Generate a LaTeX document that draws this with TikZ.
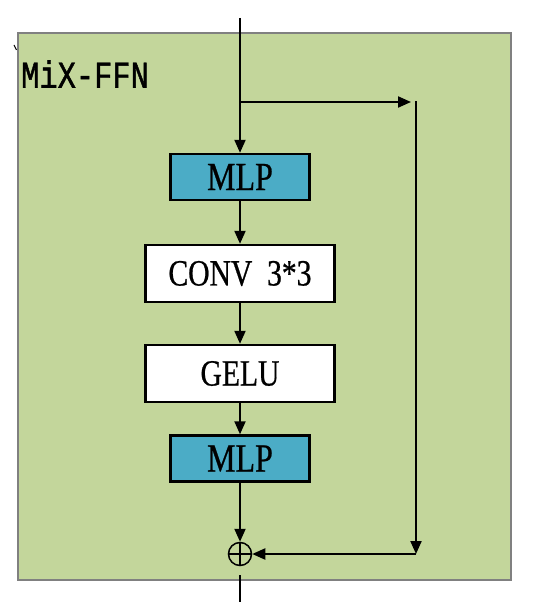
\documentclass[tikz,border=0pt]{standalone}
\usepackage{fontspec}
\usepackage{tikz}
\usetikzlibrary{arrows.meta,positioning,calc}
\newfontfamily\boxfont[FakeStretch=0.8,FakeBold=0.6]{Liberation Serif}
\newfontfamily\titlefont[FakeStretch=0.8,FakeBold=1.2]{Liberation Mono}
\definecolor{ffngreen}{HTML}{C3D69B}
\definecolor{mlpblue}{HTML}{4BACC6}

\begin{document}
\begin{tikzpicture}[
  x=1pt, y=-1pt,
  arr/.style={-{Triangle[length=13pt,width=11pt]}, line width=2.1pt},
  lin/.style={line width=2.1pt},
  blk/.style={draw, line width=2.4pt, fill=white, minimum width=189pt, minimum height=57pt,
    inner sep=0pt, font=\boxfont\fontsize{37}{42}\selectfont},
  mlp/.style={blk, fill=mlpblue, minimum width=139pt, minimum height=46pt,
    font=\boxfont\fontsize{40}{44}\selectfont}
]
  \useasboundingbox (0,0) rectangle (534,602);
  \draw[fill=ffngreen, draw=gray, line width=1.2pt] (18,33) rectangle (511,580);
  \draw[line width=1pt] (14,45) -- (16.5,50);
  \node[anchor=west, inner sep=0pt, font=\titlefont\fontsize{38}{42}\selectfont] (title) at (21,74) {MiX-FFN};

  \node[mlp] (mlpA) at (240,177) {MLP};
  \node[blk] (conv) at (240,273.5) {CONV\ \ 3*3};
  \node[blk] (gelu) at (240,373.5) {GELU};
  \node[mlp] (mlpB) at (240,458.5) {MLP};
  \node[circle, draw, line width=1.5pt, minimum size=23pt, inner sep=0pt] (add) at (240,554) {};
  \draw[line width=1.5pt] (add.north) -- (add.south) (add.west) -- (add.east);

  \coordinate (in) at (240,18);
  \coordinate (split) at (240,102);
  \coordinate (cornerA) at (416,102);
  \coordinate (cornerB) at (416,554);
  \coordinate (outA) at (240,575);
  \coordinate (outB) at (240,602);

  \draw[arr] (in) -- (mlpA.north);
  \draw[arr] (split) -- ($(cornerA)+(-5,0)$);
  \draw[arr] ($(cornerA)+(0,-1)$) -- (cornerB);
  \draw[arr] (cornerB) -- (add.east);
  \draw[arr] (mlpA) -- (conv);
  \draw[arr] (conv) -- (gelu);
  \draw[arr] (gelu) -- (mlpB);
  \draw[arr] (mlpB) -- (add.north);
  \draw[lin] (outA) -- (outB);
\end{tikzpicture}
\end{document}
